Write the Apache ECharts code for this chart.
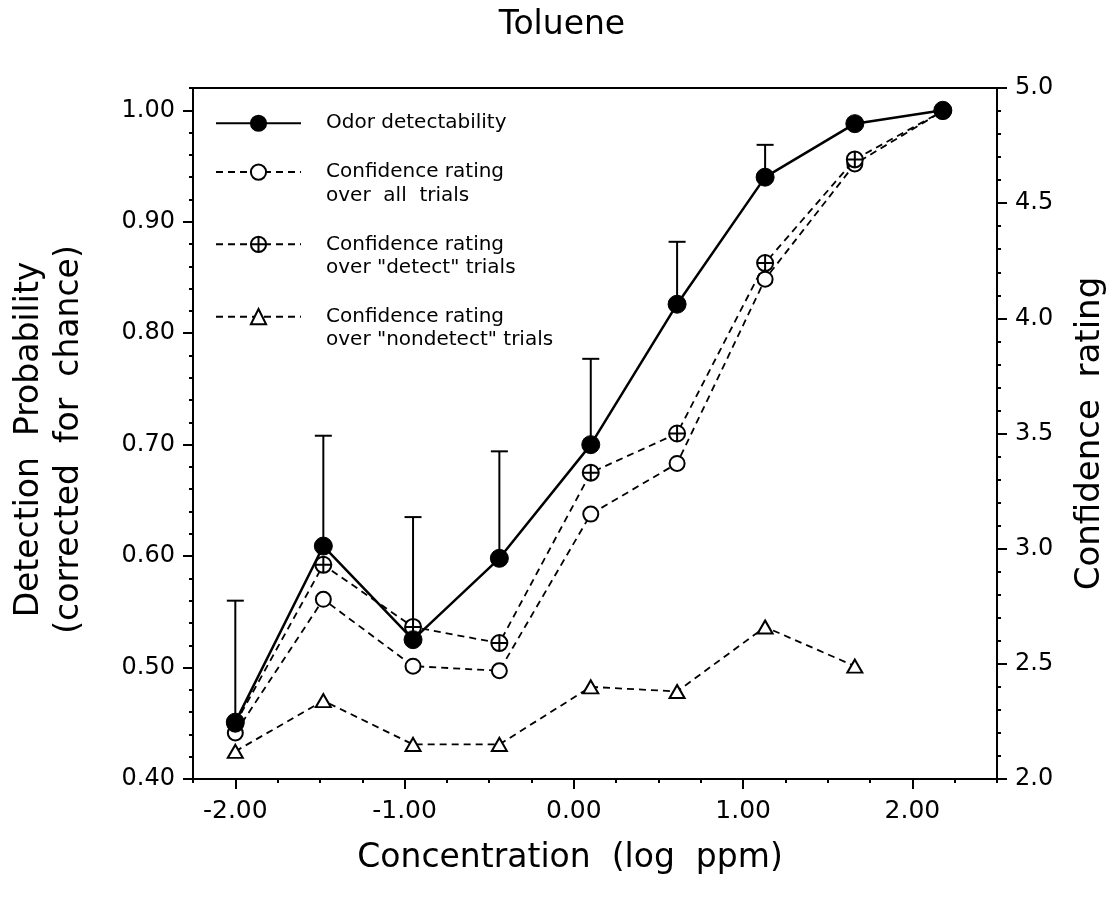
<!DOCTYPE html>
<html>
<head>
<meta charset="utf-8">
<script src="https://cdn.jsdelivr.net/npm/echarts@6/dist/echarts.min.js"></script>
<style>
html,body{margin:0;padding:0;background:#fff;}
#chart{width:1120px;height:913px;}
</style>
</head>
<body>
<div id="chart"></div>
<script>
// ---- data ----
const concentration = [-2.00, -1.48, -0.95, -0.44, 0.10, 0.61, 1.13, 1.66, 2.18];
const odorDetect = [0.451, 0.609, 0.525, 0.598, 0.700, 0.826, 0.940, 0.988, 1.000];
const odorErrTop = [0.560, 0.708, 0.635, 0.694, 0.777, 0.882, 0.969];
const confAll = [2.20, 2.78, 2.49, 2.47, 3.15, 3.37, 4.17, 4.67, 4.90];
const confDetect = [2.24, 2.93, 2.66, 2.59, 3.33, 3.50, 4.24, 4.69, 4.90];
const confNondetect = [2.12, 2.34, 2.15, 2.15, 2.40, 2.38, 2.66, 2.49];

const xTicks = [-2, -1, 0, 1, 2];
const leftTicks = [0.40, 0.50, 0.60, 0.70, 0.80, 0.90, 1.00];
const rightTicks = [2.0, 2.5, 3.0, 3.5, 4.0, 4.5, 5.0];

const seriesNames = [
  'Odor detectability',
  'Confidence rating\nover  all  trials',
  'Confidence rating\nover "detect" trials',
  'Confidence rating\nover "nondetect" trials'
];

const FONT = 'DejaVu Sans';
const pairs = (ys) => ys.map((y, i) => [concentration[i], y]);
const plusCircle = 'path://M10,0A10,10,0,1,1,-10,0A10,10,0,1,1,10,0ZM-10,0L10,0M0,-10L0,10';

const chart = echarts.init(document.getElementById('chart'), null, {renderer: 'canvas'});

const dashed = {color: '#000', width: 1.8, type: [7, 5]};
const openItem = {color: '#fff', borderColor: '#000', borderWidth: 2};
const L = 23.5;

const option = {
  animation: false,
  backgroundColor: '#fff',
  title: {
    text: 'Toluene', left: 562, top: 9, textAlign: 'center', padding: 0,
    textStyle: {fontFamily: FONT, fontSize: 33, fontWeight: 'normal', color: '#000'}
  },
  grid: {left: 193, right: 123, top: 88, bottom: 134, show: true, borderColor: '#000', borderWidth: 2, backgroundColor: 'transparent'},
  legend: {
    orient: 'vertical', left: 215, top: 111.5, padding: 0, itemGap: 1.8,
    itemWidth: 85, itemHeight: 19, selectedMode: false,
    // multi-line entries get a leading blank line so the key sits on the first text line
    formatter: name => (name.indexOf('\n') >= 0 ? '\n' + name : name),
    textStyle: {fontFamily: FONT, fontSize: 20, lineHeight: L, color: '#000', padding: [0, 0, 0, 20], backgroundColor: 'rgba(0,0,0,0)'},
    data: seriesNames
  },
  xAxis: [
    {
      type: 'value', min: -2.25, max: 2.5, interval: 0.25, position: 'bottom',
      axisLine: {show: false, onZero: false},
      axisTick: {show: true, length: 4, lineStyle: {color: '#000', width: 2}},
      axisLabel: {customValues: xTicks, formatter: v => v.toFixed(2), fontFamily: FONT, fontSize: 25, color: '#000', margin: 20},
      splitLine: {show: false},
      name: 'Concentration  (log  ppm)', nameLocation: 'middle', nameGap: 63,
      nameTextStyle: {fontFamily: FONT, fontSize: 33, color: '#000', padding: [0, 50, 0, 0]}
    },
    {
      type: 'value', min: -2.25, max: 2.5, position: 'bottom',
      axisLine: {show: false, onZero: false},
      axisTick: {show: true, customValues: xTicks, length: 10, lineStyle: {color: '#000', width: 2}},
      axisLabel: {show: false}, splitLine: {show: false}
    }
  ],
  yAxis: [
    {
      type: 'value', min: 0.40, max: 1.02, interval: 0.02, position: 'left',
      axisLine: {show: false, onZero: false},
      axisTick: {show: true, length: 4, lineStyle: {color: '#000', width: 2}},
      axisLabel: {customValues: leftTicks, formatter: v => v.toFixed(2), fontFamily: FONT, fontSize: 24, color: '#000', margin: 18},
      splitLine: {show: false},
      name: 'Detection  Probability\n(corrected  for  chance)', nameLocation: 'middle', nameRotate: 90, nameGap: 104,
      nameTextStyle: {fontFamily: FONT, fontSize: 33, lineHeight: 40, color: '#000', padding: [0, 12, 0, 0]}
    },
    {
      type: 'value', min: 2.0, max: 5.0, interval: 0.1, position: 'right',
      axisLine: {show: false, onZero: false},
      axisTick: {show: true, length: 4, lineStyle: {color: '#000', width: 2}},
      axisLabel: {customValues: rightTicks, formatter: v => v.toFixed(1), fontFamily: FONT, fontSize: 24, color: '#000', margin: 18},
      splitLine: {show: false},
      name: 'Confidence  rating', nameLocation: 'middle', nameRotate: 90, nameGap: 76,
      nameTextStyle: {fontFamily: FONT, fontSize: 34, color: '#000'}
    },
    {
      type: 'value', min: 0.40, max: 1.02, position: 'left',
      axisLine: {show: false, onZero: false},
      axisTick: {show: true, customValues: leftTicks, length: 10, lineStyle: {color: '#000', width: 2}},
      axisLabel: {show: false}, splitLine: {show: false}
    },
    {
      type: 'value', min: 2.0, max: 5.0, position: 'right',
      axisLine: {show: false, onZero: false},
      axisTick: {show: true, customValues: rightTicks, length: 10, lineStyle: {color: '#000', width: 2}},
      axisLabel: {show: false}, splitLine: {show: false}
    }
  ],
  series: [
    {
      type: 'custom', name: 'errorbars', xAxisIndex: 0, yAxisIndex: 0, z: 1,
      data: odorErrTop.map((t, i) => [concentration[i], odorDetect[i], t]),
      encode: {x: 0, y: [1, 2]},
      renderItem: function (params, api) {
        const p0 = api.coord([api.value(0), api.value(1)]);
        const p1 = api.coord([api.value(0), api.value(2)]);
        const half = 8.5;
        return {
          type: 'group',
          children: [
            {type: 'line', shape: {x1: p0[0], y1: p0[1], x2: p1[0], y2: p1[1]}, style: {stroke: '#000', lineWidth: 2}},
            {type: 'line', shape: {x1: p1[0] - half, y1: p1[1], x2: p1[0] + half, y2: p1[1]}, style: {stroke: '#000', lineWidth: 2}}
          ]
        };
      }
    },
    {
      type: 'line', name: seriesNames[3], xAxisIndex: 0, yAxisIndex: 1, z: 2,
      data: pairs(confNondetect), symbol: 'triangle', symbolSize: [15, 13],
      lineStyle: dashed, itemStyle: openItem, emphasis: {disabled: true}
    },
    {
      type: 'line', name: seriesNames[1], xAxisIndex: 0, yAxisIndex: 1, z: 3,
      data: pairs(confAll), symbol: 'circle', symbolSize: 15,
      lineStyle: dashed, itemStyle: openItem, emphasis: {disabled: true}
    },
    {
      type: 'line', name: seriesNames[2], xAxisIndex: 0, yAxisIndex: 1, z: 4,
      data: pairs(confDetect), symbol: plusCircle, symbolSize: 16,
      lineStyle: dashed, itemStyle: openItem, emphasis: {disabled: true}
    },
    {
      type: 'line', name: seriesNames[0], xAxisIndex: 0, yAxisIndex: 0, z: 5,
      data: pairs(odorDetect), symbol: 'circle', symbolSize: 18,
      lineStyle: {color: '#000', width: 2.5, type: 'solid'},
      itemStyle: {color: '#000', borderColor: '#000', borderWidth: 1}, emphasis: {disabled: true}
    }
  ]
};
chart.setOption(option);
</script>
</body>
</html>
